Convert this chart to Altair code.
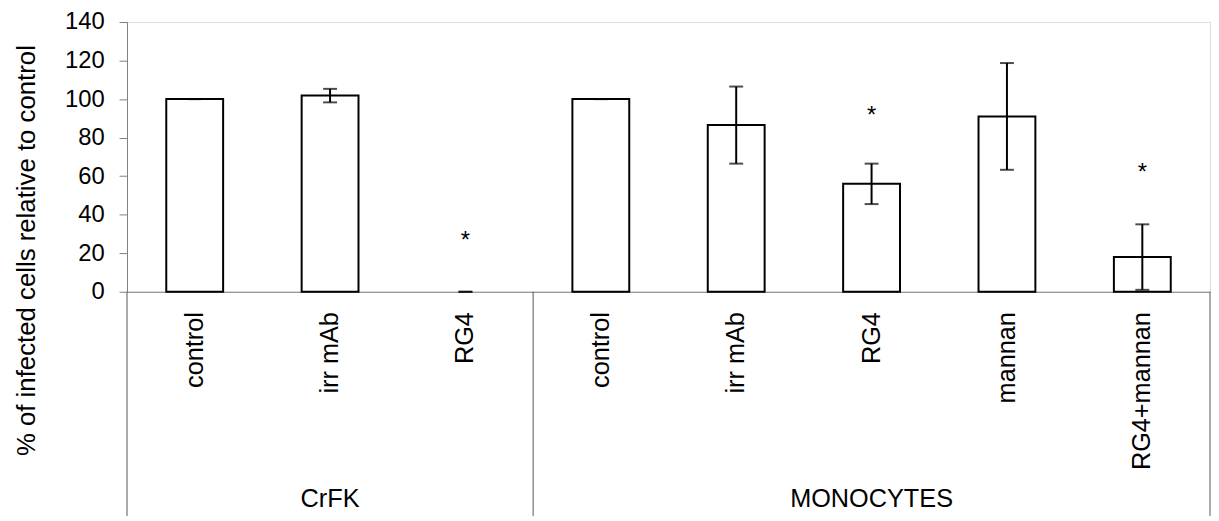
import altair as alt
import pandas as pd

# ---- data ----
groups = ["CrFK", "CrFK", "CrFK", "MONOCYTES", "MONOCYTES", "MONOCYTES", "MONOCYTES", "MONOCYTES"]
treatments = ["control", "irr mAb", "RG4", "control", "irr mAb", "RG4", "mannan", "RG4+mannan"]
means = [100, 101.8, 0, 100, 86.5, 56, 91, 18]
errors = [0, 3.5, 0, 0, 20, 10.5, 27.7, 17]
star_heights = [None, None, 30, None, None, 95, None, 65]
group_names = ["CrFK", "MONOCYTES"]
y_ticks = [0, 20, 40, 60, 80, 100, 120, 140]

FONT = "Liberation Sans"
AXIS_GRAY = "#808080"
SEP_GRAY = "#555555"
PAD_INNER = 0.58
PAD_OUTER = PAD_INNER / 2
W, H = 1092, 272
STEP = W / len(treatments)

keys = [f"{g}|{t}" for g, t in zip(groups, treatments)]

df = pd.DataFrame({
    "key": keys,
    "group": groups,
    "treatment": treatments,
    "mean": means,
    "lo": [m - e for m, e in zip(means, errors)],
    "hi": [m + e for m, e in zip(means, errors)],
})
df["lo"] = df["lo"].clip(lower=0)

stars = pd.DataFrame({"key": [k for k, s in zip(keys, star_heights) if s is not None],
                      "star": [s for s in star_heights if s is not None]})

group_keys = [[k for k, g in zip(keys, groups) if g == name] for name in group_names]
group_lab = pd.DataFrame({"key": [gk[len(gk) // 2] for gk in group_keys], "group": group_names})
start_edges = pd.DataFrame({"key": [gk[0] for gk in group_keys]})
end_edges = pd.DataFrame({"key": [group_keys[-1][-1]]})

x_scale = alt.Scale(paddingInner=PAD_INNER, paddingOuter=PAD_OUTER)
x_axis = alt.Axis(
    title=None,
    labelExpr="split(datum.label, '|')[1]",
    labelAngle=270,
    ticks=False,
    tickSize=0,
    labelPadding=20,
    labelFont=FONT,
    labelFontSize=25.5,
    labelColor="black",
    labelOverlap=False,
    domainColor=AXIS_GRAY,
    domainWidth=1,
    grid=False,
)
y_scale = alt.Scale(domain=[0, 140], nice=False)
y_axis = alt.Axis(
    values=y_ticks,
    tickCount=len(y_ticks),
    title="% of infected cells relative to control",
    titleFont=FONT,
    titleFontSize=26,
    titleFontWeight="normal",
    titleColor="black",
    titleX=-101,
    titleY=230,
    titleBaseline="middle",
    titleAlign="center",
    labelFont=FONT,
    labelFontSize=24,
    labelColor="black",
    labelPadding=15,
    labelOverlap=False,
    labelFlush=False,
    tickSize=8,
    tickColor=AXIS_GRAY,
    domainColor=AXIS_GRAY,
    grid=False,
)


def Yq(field):
    return alt.Y(f"{field}:Q", scale=y_scale, axis=y_axis)


X = alt.X("key:N", sort=keys, scale=x_scale, axis=x_axis)

bars = alt.Chart(df).transform_filter("datum.mean > 0").mark_bar(
    fill="white", stroke="black", strokeWidth=2
).encode(x=X, y=Yq("mean"))

err_rule = alt.Chart(df).mark_rule(color="black", strokeWidth=2).encode(
    x=X, y=Yq("lo"), y2="hi:Q"
)
cap_hi = alt.Chart(df).mark_tick(orient="horizontal", size=14, thickness=2, color="black").encode(
    x=X, y=Yq("hi")
)
cap_lo = alt.Chart(df).mark_tick(orient="horizontal", size=14, thickness=2, color="black").encode(
    x=X, y=Yq("lo")
)

star_txt = alt.Chart(stars).mark_text(
    text="*", font=FONT, fontSize=24, baseline="alphabetic", dy=14, color="black"
).encode(x=X, y=Yq("star"))

grp_txt = alt.Chart(group_lab).mark_text(
    font=FONT, fontSize=25.5, baseline="alphabetic", color="black"
).encode(x=X, y=alt.value(489), text="group:N")

sep_start = alt.Chart(start_edges).mark_rule(color=SEP_GRAY, strokeWidth=1, xOffset=-STEP / 2).encode(
    x=alt.X("key:N", sort=keys, scale=x_scale, axis=x_axis, bandPosition=0.5),
    y=alt.value(H), y2=alt.value(498)
)
sep_end = alt.Chart(end_edges).mark_rule(color=SEP_GRAY, strokeWidth=1, xOffset=STEP / 2).encode(
    x=alt.X("key:N", sort=keys, scale=x_scale, axis=x_axis, bandPosition=0.5),
    y=alt.value(H), y2=alt.value(498)
)

chart = alt.layer(bars, err_rule, cap_hi, cap_lo, star_txt, grp_txt, sep_start, sep_end).properties(
    width=W, height=H,
    padding={"left": 5, "top": 0, "right": 0, "bottom": 0},
).configure_view(stroke=None).configure(background="white")

chart.save("out.html", embed_options={"renderer": "svg", "actions": False})
